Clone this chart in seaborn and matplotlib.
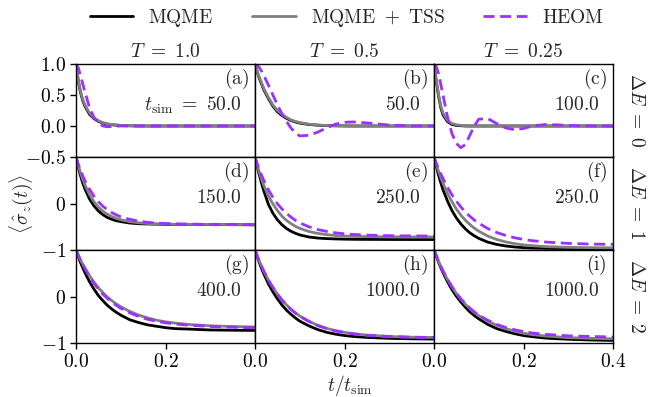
import matplotlib
matplotlib.use("Agg")
import matplotlib.pyplot as plt
import seaborn as sns
from matplotlib.lines import Line2D

# shared time grid, t / t_sim
t_grid = [0, 0.005, 0.01, 0.015, 0.02, 0.03, 0.04, 0.05, 0.06, 0.07, 0.08, 0.09,
          0.1, 0.12, 0.14, 0.16, 0.18, 0.2, 0.22, 0.25, 0.3, 0.35, 0.4]

# row 1: dE = 0
mqme_a = [1.0, 0.73, 0.54, 0.41, 0.32, 0.19, 0.12, 0.075, 0.048, 0.03, 0.02, 0.013,
          0.008, 0.003, 0.001, 0, 0, 0, 0, 0, 0, 0, 0]
tss_a = [1.0, 0.75, 0.56, 0.43, 0.34, 0.21, 0.13, 0.085, 0.055, 0.037, 0.025, 0.017,
         0.011, 0.005, 0.002, 0, 0, 0, 0, 0, 0, 0, 0]
heom_a = [1.0, 0.94, 0.82, 0.68, 0.55, 0.3, 0.14, 0.05, 0.0, -0.012, -0.008, -0.003,
          0, 0, 0, 0, 0, 0, 0, 0, 0, 0, 0]

mqme_b = [1.0, 0.87, 0.76, 0.67, 0.58, 0.44, 0.32, 0.23, 0.17, 0.125, 0.09, 0.065,
          0.047, 0.025, 0.013, 0.006, 0.003, 0.001, 0, 0, 0, 0, 0]
tss_b = [1.0, 0.88, 0.78, 0.69, 0.6, 0.46, 0.34, 0.25, 0.19, 0.14, 0.1, 0.075,
         0.055, 0.03, 0.016, 0.008, 0.004, 0.002, 0, 0, 0, 0, 0]
heom_b = [1.0, 0.98, 0.94, 0.88, 0.81, 0.66, 0.5, 0.34, 0.2, 0.08, -0.03, -0.11,
          -0.16, -0.15, -0.1, -0.03, 0.03, 0.06, 0.065, 0.05, 0.015, 0.0, 0.0]

mqme_c = [1.0, 0.72, 0.49, 0.3, 0.18, 0.07, 0.025, 0.01, 0.004, 0, 0, 0,
          0, 0, 0, 0, 0, 0, 0, 0, 0, 0, 0]
tss_c = [1.0, 0.74, 0.52, 0.33, 0.21, 0.09, 0.04, 0.02, 0.01, 0.005, 0, 0,
         0, 0, 0, 0, 0, 0, 0, 0, 0, 0, 0]
heom_c = [1.0, 0.96, 0.85, 0.68, 0.5, 0.15, -0.12, -0.28, -0.35, -0.3, -0.15, 0.0,
          0.11, 0.12, 0.04, -0.03, -0.06, -0.04, 0.0, 0.025, 0.01, 0.0, 0.0]

# row 2: dE = 1
mqme_d = [1.0, 0.78, 0.60, 0.44, 0.31, 0.10, -0.05, -0.16, -0.24, -0.30, -0.34, -0.37,
          -0.39, -0.42, -0.435, -0.44, -0.445, -0.45, -0.45, -0.45, -0.455, -0.455, -0.46]
tss_d = [1.0, 0.82, 0.66, 0.52, 0.40, 0.195, 0.04, -0.075, -0.165, -0.23, -0.28, -0.32,
         -0.35, -0.39, -0.415, -0.43, -0.44, -0.443, -0.446, -0.448, -0.45, -0.452, -0.455]
heom_d = [1.0, 0.85, 0.72, 0.60, 0.49, 0.31, 0.16, 0.04, -0.06, -0.13, -0.195, -0.245,
          -0.285, -0.34, -0.38, -0.405, -0.42, -0.43, -0.437, -0.443, -0.448, -0.45, -0.455]

mqme_e = [1.0, 0.79, 0.60, 0.42, 0.26, -0.02, -0.21, -0.35, -0.455, -0.535, -0.595, -0.64,
          -0.675, -0.72, -0.743, -0.755, -0.762, -0.767, -0.77, -0.772, -0.774, -0.775, -0.775]
tss_e = [1.0, 0.82, 0.66, 0.51, 0.38, 0.16, -0.01, -0.15, -0.27, -0.36, -0.43, -0.49,
         -0.535, -0.60, -0.643, -0.67, -0.689, -0.70, -0.707, -0.713, -0.717, -0.719, -0.72]
heom_e = [1.0, 0.855, 0.72, 0.60, 0.49, 0.295, 0.13, -0.005, -0.115, -0.21, -0.29, -0.36,
          -0.415, -0.50, -0.56, -0.60, -0.63, -0.652, -0.666, -0.68, -0.692, -0.697, -0.70]

mqme_f = [1.0, 0.80, 0.615, 0.45, 0.30, 0.055, -0.15, -0.31, -0.44, -0.545, -0.63, -0.695,
          -0.75, -0.83, -0.88, -0.913, -0.935, -0.95, -0.958, -0.965, -0.97, -0.973, -0.975]
tss_f = [1.0, 0.84, 0.695, 0.56, 0.44, 0.22, 0.04, -0.12, -0.25, -0.36, -0.45, -0.53,
         -0.595, -0.70, -0.773, -0.826, -0.863, -0.89, -0.908, -0.927, -0.943, -0.95, -0.953]
heom_f = [1.0, 0.87, 0.75, 0.64, 0.54, 0.35, 0.19, 0.05, -0.075, -0.18, -0.274, -0.355,
          -0.423, -0.538, -0.623, -0.687, -0.736, -0.772, -0.80, -0.829, -0.857, -0.872, -0.879]

# row 3: dE = 2
mqme_g = [1.0, 0.86, 0.73, 0.62, 0.51, 0.32, 0.16, 0.02, -0.09, -0.19, -0.27, -0.34,
          -0.40, -0.50, -0.56, -0.61, -0.64, -0.67, -0.69, -0.70, -0.72, -0.725, -0.73]
tss_g = [1.0, 0.89, 0.79, 0.70, 0.61, 0.45, 0.31, 0.19, 0.085, -0.01, -0.09, -0.16,
         -0.22, -0.32, -0.40, -0.46, -0.51, -0.545, -0.57, -0.60, -0.63, -0.645, -0.655]
heom_g = [1.0, 0.89, 0.78, 0.69, 0.60, 0.43, 0.28, 0.16, 0.05, -0.04, -0.12, -0.19,
          -0.25, -0.35, -0.43, -0.49, -0.53, -0.565, -0.59, -0.615, -0.645, -0.66, -0.675]

mqme_h = [1.0, 0.85, 0.72, 0.59, 0.48, 0.27, 0.10, -0.05, -0.18, -0.29, -0.38, -0.46,
          -0.53, -0.63, -0.71, -0.77, -0.81, -0.84, -0.86, -0.88, -0.90, -0.91, -0.915]
tss_h = [1.0, 0.87, 0.755, 0.645, 0.54, 0.355, 0.195, 0.055, -0.07, -0.175, -0.27, -0.35,
         -0.42, -0.53, -0.62, -0.685, -0.735, -0.77, -0.80, -0.83, -0.86, -0.875, -0.88]
heom_h = [1.0, 0.87, 0.75, 0.64, 0.535, 0.35, 0.19, 0.05, -0.075, -0.18, -0.275, -0.355,
          -0.425, -0.535, -0.625, -0.69, -0.74, -0.775, -0.805, -0.835, -0.86, -0.875, -0.885]

mqme_i = [1.0, 0.865, 0.74, 0.62, 0.515, 0.32, 0.15, 0.005, -0.12, -0.23, -0.33, -0.41,
          -0.48, -0.60, -0.69, -0.75, -0.80, -0.84, -0.865, -0.895, -0.92, -0.935, -0.945]
tss_i = [1.0, 0.88, 0.76, 0.65, 0.55, 0.37, 0.21, 0.065, -0.06, -0.165, -0.26, -0.34,
         -0.41, -0.53, -0.62, -0.69, -0.745, -0.79, -0.82, -0.85, -0.885, -0.90, -0.91]
heom_i = [1.0, 0.88, 0.76, 0.65, 0.55, 0.37, 0.21, 0.07, -0.05, -0.155, -0.25, -0.33,
          -0.40, -0.51, -0.60, -0.665, -0.715, -0.755, -0.785, -0.815, -0.845, -0.86, -0.87]

panel_letters = ["a", "b", "c", "d", "e", "f", "g", "h", "i"]
t_sim = ["50.0", "50.0", "100.0", "150.0", "250.0", "250.0", "400.0", "1000.0", "1000.0"]
temperatures = ["1.0", "0.5", "0.25"]
delta_e = ["0", "1", "2"]

mqme_all = [mqme_a, mqme_b, mqme_c, mqme_d, mqme_e, mqme_f, mqme_g, mqme_h, mqme_i]
tss_all = [tss_a, tss_b, tss_c, tss_d, tss_e, tss_f, tss_g, tss_h, tss_i]
heom_all = [heom_a, heom_b, heom_c, heom_d, heom_e, heom_f, heom_g, heom_h, heom_i]

PURPLE = "#9B30FF"
FS = 14

sns.set_style("ticks")
plt.rcParams["font.family"] = ["DejaVu Serif"]
plt.rcParams["mathtext.fontset"] = "cm"
plt.rcParams["font.size"] = FS

fig, axes = plt.subplots(3, 3, figsize=(6.48, 3.97), dpi=100)
fig.subplots_adjust(left=0.1173, right=0.946, top=0.8388, bottom=0.136,
                    hspace=0, wspace=0)

for k in range(9):
    r, c = divmod(k, 3)
    ax = axes[r, c]
    sns.lineplot(x=t_grid, y=mqme_all[k], ax=ax, color="black", lw=2)
    sns.lineplot(x=t_grid, y=tss_all[k], ax=ax, color="gray", lw=2)
    sns.lineplot(x=t_grid, y=heom_all[k], ax=ax, color=PURPLE, lw=2,
                 linestyle=(0, (4, 2)))
    ax.set_xlim(0, 0.4)
    if r == 0:
        ax.set_ylim(-0.5, 1.0)
    else:
        ax.set_ylim(-1, 1)
    for s in ax.spines.values():
        s.set_color("black")
        s.set_linewidth(1.0)
    ax.tick_params(direction="out", length=4, width=1, colors="black",
                   labelsize=FS, pad=3)

    if c == 0:
        if r == 0:
            ax.set_yticks([-0.5, 0, 0.5, 1.0])
            ax.set_yticklabels([r"$-0.5$", r"$0.0$", r"$0.5$", r"$1.0$"])
        else:
            ax.set_yticks([-1, 0])
            ax.set_yticklabels([r"$-1$", r"$0$"])
    else:
        ax.set_yticks([])
    if r == 2:
        if c == 2:
            ax.set_xticks([0, 0.2, 0.4])
            ax.set_xticklabels([r"$0.0$", r"$0.2$", r"$0.4$"])
        else:
            ax.set_xticks([0, 0.2])
            ax.set_xticklabels([r"$0.0$", r"$0.2$"])
    else:
        ax.set_xticks([])
    ax.set_xlabel("")
    ax.set_ylabel("")

    ax.text(0.965, 0.84, r"$(\mathrm{%s})$" % panel_letters[k], transform=ax.transAxes,
            ha="right", va="center", fontsize=FS)
    if k == 0:
        lbl = r"$t_{\rm sim} \ =\ %s$" % t_sim[k]
    else:
        lbl = r"$%s$" % t_sim[k]
    ax.text(0.925, 0.56, lbl, transform=ax.transAxes, ha="right", va="center",
            fontsize=FS)

for c in range(3):
    axes[0, c].set_title(r"$T\ =\ %s$" % temperatures[c], fontsize=FS, pad=5)

row_centers = [0.7217, 0.4874, 0.2531]
for r in range(3):
    fig.text(636 / 648, row_centers[r], r"$\Delta E\ =\ %s$" % delta_e[r],
             rotation=-90, ha="center", va="center", fontsize=FS)

fig.text(21 / 648, 0.4874, r"$\langle \hat{\sigma}_z(t) \rangle$", rotation=90,
         ha="center", va="center", fontsize=FS)
fig.text(0.54, 0.028, r"$t/t_{\rm sim}$", ha="center", va="center", fontsize=FS)

handles = [Line2D([], [], color="black", lw=2),
           Line2D([], [], color="gray", lw=2),
           Line2D([], [], color=PURPLE, lw=2, linestyle=(0, (4, 2)))]
labels = [r"$\mathrm{MQME}$", r"$\mathrm{MQME}\ +\ \mathrm{TSS}$", r"$\mathrm{HEOM}$"]
fig.legend(handles, labels, loc="center", bbox_to_anchor=(0.535, 0.955), ncol=3,
           frameon=False, fontsize=FS, handlelength=2.25, handletextpad=0.75,
           columnspacing=2.0)

fig.savefig("out.png", dpi=100)
